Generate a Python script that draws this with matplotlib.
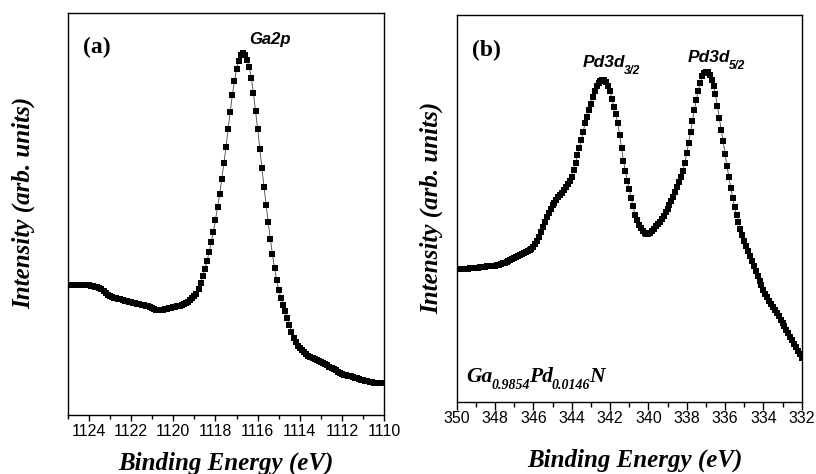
import numpy as np
import matplotlib
matplotlib.use('Agg')
import matplotlib.pyplot as plt
from matplotlib.ticker import MultipleLocator
from matplotlib.transforms import offset_copy

plt.rcParams['font.family'] = ['Liberation Sans', 'DejaVu Sans']

# ---------------- data ----------------
# Panel (a): Ga 2p, binding energy from 1125.0 down to 1110.0 eV in 0.1 eV steps
ga_energy_start = 1125.0
ga_step = 0.1
ga2p_intensity = [
    130, 130, 130, 130, 130, 130, 130, 130, 130, 130,
    130, 129.5, 129, 128.5, 128, 127, 126, 124.5, 122.5, 120.5,
    119, 118, 117.5, 117, 116.5, 116, 115, 114.5, 114, 113.5,
    113, 112.5, 112, 111.5, 111, 110.5, 110, 109.5, 109, 108.5,
    107.5, 106.5, 105.5, 105, 105, 105.5, 106, 106.5, 107, 107.5,
    108, 108.5, 109, 109.5, 110, 111, 112, 113.5, 115, 117,
    119, 121.5, 126, 132, 139, 146, 154, 163, 173, 183,
    195, 208, 221, 236, 252, 268, 286, 303, 320, 334,
    346, 354, 360, 362, 360, 355, 348, 337, 322, 304,
    286, 266, 247, 228, 210, 193, 176, 161, 147, 135,
    125, 117.5, 110.5, 104, 97, 90, 83, 77, 73, 69.5,
    67, 65, 63, 61, 59.5, 58, 57, 56, 55, 54,
    53, 52, 51, 50, 48.5, 47.5, 46, 45, 43.5, 42.5,
    41.5, 40.5, 40, 39.5, 39, 38.5, 37.5, 37, 36, 35.5,
    35, 34.5, 34, 33.5, 33, 32.5, 32, 32, 32, 32,
    32,
]

# Panel (b): Pd 3d, binding energy from 350.0 down to 332.0 eV in 0.1 eV steps
pd_energy_start = 350.0
pd_step = 0.1
pd3d_intensity = [
    132.5, 132.5, 132.5, 132.7, 132.8, 133, 133.2, 133.4, 133.6, 133.8,
    134, 134.2, 134.5, 134.8, 135, 135.2, 135.4, 135.6, 135.8, 136,
    136.3, 136.7, 137.1, 137.6, 138.4, 139.2, 140, 140.8, 141.6, 142.4,
    143.4, 144.4, 145.4, 146.4, 147.4, 148.4, 149.4, 150.5, 151.8, 153.2,
    155, 157.5, 160.5, 164.5, 170, 175, 180, 185, 189, 193,
    196.5, 199, 202, 204.5, 206.5, 209, 211.5, 214.5, 217.5, 221,
    225, 231.5, 239, 247, 254, 261.5, 270, 279, 285, 291.5,
    298, 305, 311, 315.5, 319, 321, 322, 321.5, 319.5, 316,
    310.5, 303, 295, 288, 279, 267, 254, 241, 231, 221,
    213, 204, 196, 187, 182, 177, 173.5, 171, 169, 168,
    168, 168.7, 171, 173, 175.5, 178, 180.3, 183, 186, 189.5,
    193, 197, 201, 205, 210, 215, 220, 224.5, 231, 238.5,
    248.7, 259, 270, 281, 292, 302, 311, 319, 325.5, 329,
    330, 329.5, 327, 322, 316, 308, 296, 284, 272, 261,
    248, 236, 225, 214, 204, 195, 187, 180, 173, 167,
    161, 156, 151, 146, 141, 136, 131, 126, 121, 116.5,
    112, 108, 104.5, 101, 98, 95, 92, 88.5, 85.5, 82,
    79, 75.5, 72, 69, 65, 61.5, 58, 54.5, 51, 47.5,
    44,
]

ga_ticks = [1124, 1122, 1120, 1118, 1116, 1114, 1112, 1110]
pd_ticks = [350, 348, 346, 344, 342, 340, 338, 336, 334, 332]

ga_energy = np.round(ga_energy_start - ga_step * np.arange(len(ga2p_intensity)), 1)
pd_energy = np.round(pd_energy_start - pd_step * np.arange(len(pd3d_intensity)), 1)

# ---------------- figure ----------------
W, H = 816, 474
fig = plt.figure(figsize=(W / 100, H / 100), dpi=100)
renderer = fig.canvas.get_renderer()

def px_axes(x0, x1, ytop, ybot):
    return fig.add_axes([x0 / W, 1 - ybot / H, (x1 - x0) / W, (ybot - ytop) / H])

ax1 = px_axes(67.7, 384.3, 13, 415)
ax2 = px_axes(456.7, 801.7, 15, 401.7)

mk = dict(marker='s', ms=4.3, mec='black', mfc='black', mew=0,
          color='#444444', lw=0.6)
ax1.plot(ga_energy, ga2p_intensity, **mk)
ax2.plot(pd_energy, pd3d_intensity, **mk)

ax1.set_xlim(1125, 1110)
ax1.set_ylim(0, 402)
ax2.set_xlim(350, 332)
ax2.set_ylim(0, 387)

for ax, ticks, tl, pad in ((ax1, ga_ticks, 4, 2.5), (ax2, pd_ticks, 5.5, 1.2)):
    ax.set_xticks(ticks)
    ax.set_xticklabels([str(t) for t in ticks])
    ax.xaxis.set_minor_locator(MultipleLocator(1))
    ax.set_yticks([])
    ax.tick_params(axis='x', which='major', direction='out', length=tl, width=1.0,
                   labelsize=11.5, pad=pad)
    ax.tick_params(axis='x', which='minor', direction='out', length=tl * 0.7, width=1.0)
    for s in ax.spines.values():
        s.set_linewidth(1.0)

serif_bi = dict(family='Liberation Serif', weight='bold', style='italic', size=18)

# axis labels
fig.text(226 / W, 1 - 470 / H, 'Binding Energy (eV)', ha='center', va='baseline', **serif_bi)
fig.text(635 / W, 1 - 466.5 / H, 'Binding Energy (eV)', ha='center', va='baseline', **serif_bi)
fig.text(24 / W, 1 - 203.3 / H, 'Intensity (arb. units)', ha='center', va='center',
         rotation=90, **serif_bi)
fig.text(431.5 / W, 1 - 208 / H, 'Intensity (arb. units)', ha='center', va='center',
         rotation=90, **serif_bi)

# panel labels
ax1.text(0.0925, 0.915, '(a)', transform=ax1.transAxes, ha='center', va='center',
         family='Liberation Serif', weight='bold', size=17)
ax2.text(0.085, 0.909, '(b)', transform=ax2.transAxes, ha='center', va='center',
         family='Liberation Serif', weight='bold', size=17)

# peak label (a)
ax1.text(0.639, 0.933, 'Ga2p', transform=ax1.transAxes, ha='center', va='center',
         family='Liberation Sans', weight='bold', style='italic', size=12)


def rich_text(ax, x, y, pieces):
    """Draw consecutive text pieces (text, props, dy_px) starting at axes coords x, y."""
    dx = 0.0
    for s, props, dy in pieces:
        tr = offset_copy(ax.transAxes, fig=fig, x=dx, y=dy, units='dots')
        t = ax.text(x, y, s, transform=tr, ha='left', va='baseline', **props)
        dx += t.get_window_extent(renderer).width - 1.0


sans_main = dict(family='Liberation Sans', weight='bold', style='italic', size=12.5)
sans_sub = dict(family='Liberation Sans', weight='bold', style='italic', size=8.5)
rich_text(ax2, (582.3 - 456.7) / 345, (401.7 - 66.7) / 386.7,
          [('Pd3d', sans_main, 0), ('3/2', sans_sub, -7)])
rich_text(ax2, (687.7 - 456.7) / 345, (401.7 - 61.7) / 386.7,
          [('Pd3d', sans_main, 0), ('5/2', sans_sub, -7)])

serif_main = dict(family='Liberation Serif', weight='bold', style='italic', size=15.5)
serif_sub = dict(family='Liberation Serif', weight='bold', style='italic', size=10)
rich_text(ax2, (466 - 456.7) / 345, (401.7 - 381.7) / 386.7,
          [('Ga', serif_main, 0), ('0.9854', serif_sub, -7),
           ('Pd', serif_main, 0), ('0.0146', serif_sub, -7), ('N', serif_main, 0)])

fig.savefig('out.png', dpi=100)
